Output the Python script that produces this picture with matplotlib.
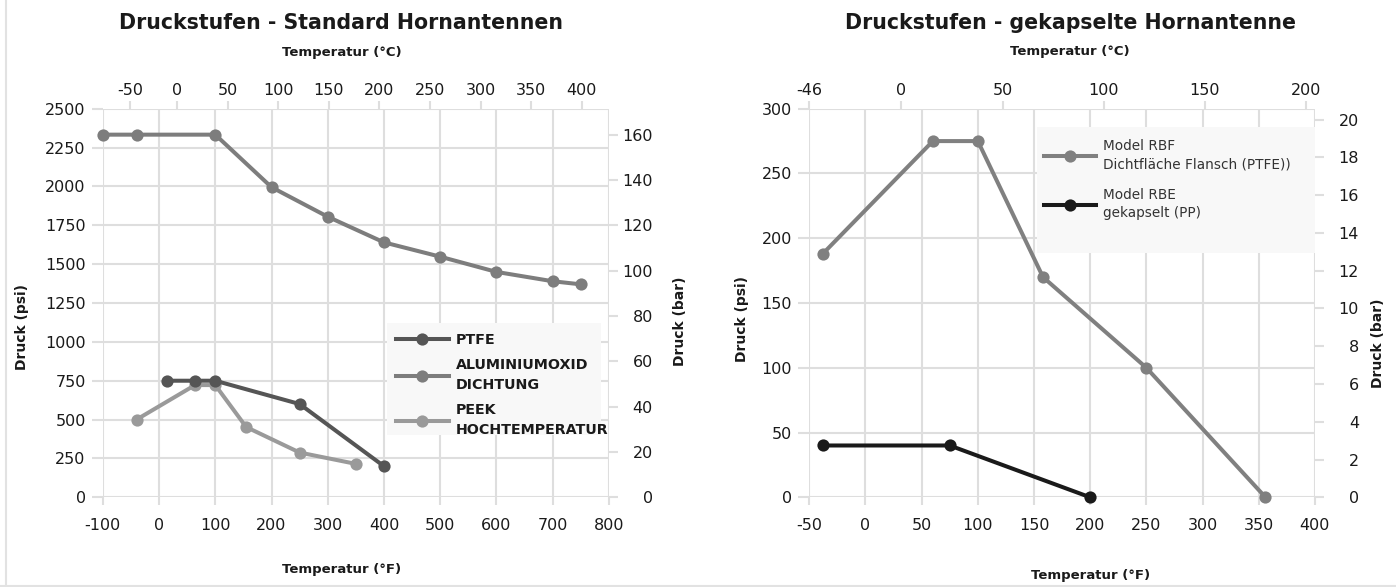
import matplotlib
matplotlib.use("Agg")
import matplotlib.pyplot as plt
from matplotlib.patches import Rectangle
from matplotlib.lines import Line2D

W, H, DPI = 1396, 587, 100

# ---- Standard horn antennas: temperature (°F) / pressure (psi) ----
ptfe_f = [15, 64, 100, 250, 400]
ptfe_psi = [750, 750, 750, 600, 200]
alox_f = [-100, -40, 100, 200, 300, 400, 500, 600, 700, 750]
alox_psi = [2333, 2333, 2333, 1995, 1805, 1640, 1548, 1450, 1390, 1370]
peek_f = [-40, 64, 100, 155, 250, 350]
peek_psi = [500, 722, 722, 452, 288, 215]

# ---- Encapsulated horn antenna ----
rbf_f = [-38, 60, 100, 158, 250, 356]
rbf_psi = [188, 275, 275, 170, 100, 0]
rbe_f = [-38, 75, 200]
rbe_psi = [40, 40, 0]

# ---- Axis ticks ----
left_f_ticks = list(range(-100, 801, 100))
left_psi_ticks = list(range(0, 2501, 250))
left_bar_ticks = list(range(0, 161, 20))
left_c_ticks = [-46, 0, 50, 100, 150, 200, 250, 300, 350, 400]
left_c_labels = ["-50", "0", "50", "100", "150", "200", "250", "300", "350", "400"]

right_f_ticks = list(range(-50, 401, 50))
right_psi_ticks = list(range(0, 301, 50))
right_bar_ticks = list(range(0, 21, 2))
right_c_ticks = [-45.5, 0, 50, 100, 150, 200]
right_c_labels = ["-46", "0", "50", "100", "150", "200"]

PSI_PER_BAR = 14.58

GRID = "#dedede"
TXT = "#1a1a1a"
FONT = "DejaVu Sans"
plt.rcParams["font.family"] = [FONT]
plt.rcParams["axes.unicode_minus"] = False


def f2c(f):
    return (f - 32.0) * 5.0 / 9.0


def c2f(c):
    return c * 9.0 / 5.0 + 32.0


def psi2bar(p):
    return p / PSI_PER_BAR


def bar2psi(b):
    return b * PSI_PER_BAR


fig = plt.figure(figsize=(W / DPI, H / DPI), dpi=DPI)


def px_rect(x0, x1, ytop, ybot):
    return [x0 / W, (H - ybot) / H, (x1 - x0) / W, (ybot - ytop) / H]


def style_axes(ax, xlim, ylim, xt, yt, c_ticks, c_labels, bar_ticks):
    ax.set_xlim(*xlim)
    ax.set_ylim(*ylim)
    ax.set_xticks(xt)
    ax.set_yticks(yt)
    ax.grid(True, color=GRID, lw=1.5)
    ax.set_axisbelow(True)
    for s in ax.spines.values():
        s.set_visible(False)
    ax.tick_params(axis="x", color=GRID, width=1.5, length=5.8, pad=9,
                   labelsize=11.5, labelcolor=TXT)
    ax.tick_params(axis="y", color=GRID, width=1.5, length=7.8, pad=4.5,
                   labelsize=11.5, labelcolor=TXT)

    top = ax.secondary_xaxis("top", functions=(f2c, c2f))
    top.set_xticks(c_ticks, c_labels)
    top.tick_params(color=GRID, width=1.5, length=5.8, pad=2,
                    labelsize=11.5, labelcolor=TXT)
    for s in top.spines.values():
        s.set_visible(False)

    right = ax.secondary_yaxis("right", functions=(psi2bar, bar2psi))
    right.set_yticks(bar_ticks)
    right.tick_params(color=GRID, width=1.5, length=6.5, pad=25.2,
                      labelsize=11.5, labelcolor=TXT)
    for lab in right.get_yticklabels():
        lab.set_horizontalalignment("right")
    for s in right.spines.values():
        s.set_visible(False)


line_kw = dict(lw=2.9, marker="o", markersize=8.8, markeredgewidth=0,
               clip_on=False, solid_joinstyle="round")

# ---------------- left chart ----------------
axL = fig.add_axes(px_rect(102.8, 608.9, 108.7, 497.3))
style_axes(axL, (-100, 800), (0, 2500), left_f_ticks, left_psi_ticks,
           left_c_ticks, left_c_labels, left_bar_ticks)
h_alox, = axL.plot(alox_f, alox_psi, color="#7d7d7d", zorder=3, **line_kw)
h_peek, = axL.plot(peek_f, peek_psi, color="#9a9a9a", zorder=3, **line_kw)
h_ptfe, = axL.plot(ptfe_f, ptfe_psi, color="#555555", zorder=4, **line_kw)

axL.add_patch(Rectangle((0.561, 0.160), 0.424, 0.289, transform=axL.transAxes,
                        facecolor="#f8f8f8", edgecolor="none", zorder=1))
legL = axL.legend([h_ptfe, h_alox, h_peek],
                  ["PTFE", "ALUMINIUMOXID\nDICHTUNG", "PEEK\nHOCHTEMPERATUR"],
                  loc="upper left", bbox_to_anchor=(0.5785, 0.423),
                  frameon=False, borderpad=0, borderaxespad=0,
                  handlelength=3.7, handletextpad=0.5, labelspacing=0.8,
                  prop=dict(family=FONT, weight="bold", size=10.3))
for t in legL.get_texts():
    t.set_color(TXT)
    t.set_linespacing(1.5)
legL.set_zorder(5)

# ---------------- right chart ----------------
axR = fig.add_axes(px_rect(809.3, 1314.9, 108.7, 497.3))
style_axes(axR, (-50, 400), (0, 300), right_f_ticks, right_psi_ticks,
           right_c_ticks, right_c_labels, right_bar_ticks)
h_rbf, = axR.plot(rbf_f, rbf_psi, color="#808080", zorder=3, **line_kw)
h_rbe, = axR.plot(rbe_f, rbe_psi, color="#1a1a1a", zorder=4, **line_kw)

axR.add_patch(Rectangle((0.450, 0.628), 0.550, 0.326, transform=axR.transAxes,
                        facecolor="#f8f8f8", edgecolor="none", zorder=1))
legR = axR.legend([h_rbf, h_rbe],
                  ["Model RBF\nDichtfläche Flansch (PTFE))", "Model RBE\ngekapselt (PP)"],
                  loc="upper left", bbox_to_anchor=(0.4634, 0.922),
                  frameon=False, borderpad=0, borderaxespad=0,
                  handlelength=3.85, handletextpad=0.48, labelspacing=1.2,
                  prop=dict(family=FONT, size=9.8))
for t in legR.get_texts():
    t.set_color("#333333")
    t.set_linespacing(1.4)
legR.set_zorder(5)


# ---------------- titles and axis labels ----------------
def ftext(x, y, s, **kw):
    fig.text(x / W, 1 - y / H, s, ha="center", va="center", color=TXT, **kw)


ftext(341, 23.3, "Druckstufen - Standard Hornantennen", fontsize=14.8, weight="bold")
ftext(342, 52.7, "Temperatur (°C)", fontsize=9.5, weight="bold")
ftext(342, 569.3, "Temperatur (°F)", fontsize=9.5, weight="bold")
ftext(22, 327.5, "Druck (psi)", fontsize=10, weight="bold", rotation=90)
ftext(680, 321, "Druck (bar)", fontsize=10, weight="bold", rotation=90)

ftext(1070.4, 23.3, "Druckstufen - gekapselte Hornantenne", fontsize=14.8, weight="bold")
ftext(1070, 51, "Temperatur (°C)", fontsize=9.5, weight="bold")
ftext(1090.5, 576, "Temperatur (°F)", fontsize=9.5, weight="bold")
ftext(742, 319, "Druck (psi)", fontsize=10, weight="bold", rotation=90)
ftext(1378, 343, "Druck (bar)", fontsize=10, weight="bold", rotation=90)

# panel border (left and bottom edges)
fig.add_artist(Line2D([5.8 / W, 5.8 / W], [0, 1], transform=fig.transFigure,
                      color="#e2e2e2", lw=1.5))
fig.add_artist(Line2D([0, 1], [1.2 / H, 1.2 / H], transform=fig.transFigure,
                      color="#e2e2e2", lw=1.5))

fig.savefig("out.png", dpi=DPI, facecolor="white")
